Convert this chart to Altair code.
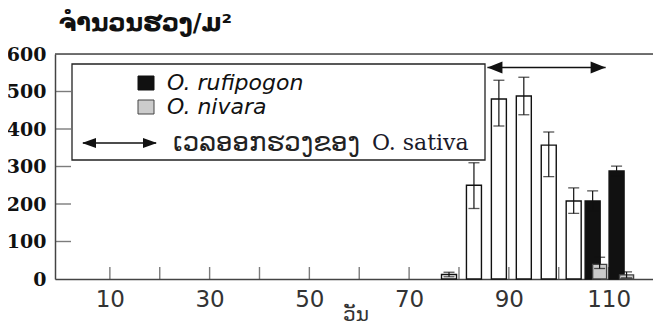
import altair as alt
import pandas as pd

# ---- data ----
sativa_day = [78, 83, 88, 93, 98, 103]
sativa_val = [12, 250, 480, 488, 357, 208]
sativa_err_hi = [6, 60, 50, 50, 35, 35]
sativa_err_lo = [6, 62, 72, 50, 84, 33]

rufi_day = [106.8, 111.6]
rufi_val = [208, 288]
rufi_err_hi = [27, 13]
rufi_err_lo = [27, 13]

niv_day = [108.2, 113.6]
niv_val = [39, 11]
niv_err_hi = [19, 8]
niv_err_lo = [11, 8]

heading_days = [85.7, 109.4]
heading_level = [564]

x_label_days = [10, 30, 50, 70, 90, 110]
x_tick_days = [10, 20, 30, 40, 50, 60, 70, 80, 90, 100, 110]
y_label_vals = [0, 100, 200, 300, 400, 500, 600]
y_tick_vals = [100, 200, 300, 400, 500]

title_text = "ຈຳນວນຮວງ/ມ²"
x_title_text = "ວັນ"
legend_labels = ["O. rufipogon", "O. nivara", "ເວລອອກຮວງຂອງ", "O. sativa"]

W, H = 598, 225
XDOM = [0, 117.9]
YDOM = [0, 600]

x_scale = alt.Scale(domain=XDOM, nice=False, zero=False)
y_scale = alt.Scale(domain=YDOM, nice=False)

x_axis = alt.Axis(values=x_label_days, ticks=False, grid=False, title=None,
                  domainColor="#444", domainWidth=1.5, labelFlush=False)
y_axis = alt.Axis(values=y_label_vals, ticks=False, grid=False, title=title_text,
                  titleAngle=0, titleAlign="left", titleBaseline="alphabetic",
                  titleX=3, titleY=-24, titleFont="DejaVu Sans", titleFontSize=24,
                  titleFontWeight="bold", titleColor="#111",
                  domainColor="#444", domainWidth=1.5, labelFlush=False)


def X(field):
    return alt.X(field, type="quantitative", scale=x_scale, axis=x_axis)


def Y(field):
    return alt.Y(field, type="quantitative", scale=y_scale, axis=y_axis)


def frame(days, vals, lo, hi):
    df = pd.DataFrame({"day": days, "val": vals, "elo": lo, "ehi": hi})
    df["lo"] = df["val"] - df["elo"]
    df["hi"] = df["val"] + df["ehi"]
    return df


sat = frame(sativa_day, sativa_val, sativa_err_lo, sativa_err_hi)
ruf = frame(rufi_day, rufi_val, rufi_err_lo, rufi_err_hi)
niv = frame(niv_day, niv_val, niv_err_lo, niv_err_hi)


def bars(df, fill, width, stroke="#111"):
    return alt.Chart(df).mark_bar(orient="vertical", size=width, fill=fill, stroke=stroke,
                                  strokeWidth=1.4).encode(x=X("day"), y=Y("val"))


def errs(df, color="#111"):
    r = alt.Chart(df).mark_rule(color=color, strokeWidth=1.2).encode(
        x=X("day"), y=Y("lo"), y2="hi")
    c1 = alt.Chart(df).mark_tick(orient="horizontal", size=11, thickness=1.3, color=color).encode(
        x=X("day"), y=Y("hi"))
    c2 = alt.Chart(df).mark_tick(orient="horizontal", size=11, thickness=1.3, color=color).encode(
        x=X("day"), y=Y("lo"))
    return [r, c1, c2]


one = pd.DataFrame({"a": [0]})

top_line = alt.Chart(one).mark_rule(color="#444", strokeWidth=1.5).encode(
    x=alt.value(0), x2=alt.value(W), y=alt.value(0))

xt = alt.Chart(pd.DataFrame({"d": x_tick_days})).mark_tick(
    orient="vertical", size=12, thickness=1.4, color="#444").encode(
    x=X("d"), y=alt.value(H - 6))
yt = alt.Chart(pd.DataFrame({"v": y_tick_vals})).mark_tick(
    orient="horizontal", size=16, thickness=1.4, color="#444").encode(
    y=Y("v"), x=alt.value(8))

# heading arrow (top)
hd = pd.DataFrame({"d1": [heading_days[0]], "d2": [heading_days[1]], "lv": heading_level})
arrow_line = alt.Chart(hd).mark_rule(color="#111", strokeWidth=1.4).encode(
    x=X("d1"), x2="d2", y=Y("lv"))
left_head = alt.Chart(hd).mark_point(shape="M 0 0 L 2 -0.8 L 2 0.8 Z", size=225, filled=True,
                                     color="#111", opacity=1).encode(x=X("d1"), y=Y("lv"))
right_head = alt.Chart(hd).mark_point(shape="M 0 0 L -2 -0.8 L -2 0.8 Z", size=225, filled=True,
                                      color="#111", opacity=1).encode(x=X("d2"), y=Y("lv"))

# legend drawn by hand
leg_box = alt.Chart(one).mark_rect(fill="white", stroke="#222", strokeWidth=1.3).encode(
    x=alt.value(17), x2=alt.value(430), y=alt.value(10), y2=alt.value(106))
sq1 = alt.Chart(one).mark_rect(fill="#111", stroke="#111").encode(
    x=alt.value(83), x2=alt.value(99), y=alt.value(22), y2=alt.value(36))
sq2 = alt.Chart(one).mark_rect(fill="#cccccc", stroke="#444").encode(
    x=alt.value(83), x2=alt.value(99), y=alt.value(46), y2=alt.value(60))
t1 = alt.Chart(one).mark_text(text=legend_labels[0], font="DejaVu Sans", fontStyle="italic",
                              fontSize=22, align="left", baseline="middle", color="#111").encode(
    x=alt.value(112), y=alt.value(29))
t2 = alt.Chart(one).mark_text(text=legend_labels[1], font="DejaVu Sans", fontStyle="italic",
                              fontSize=22, align="left", baseline="middle", color="#111").encode(
    x=alt.value(112), y=alt.value(53))
leg_arrow = alt.Chart(one).mark_rule(color="#111", strokeWidth=1.4).encode(
    x=alt.value(28), x2=alt.value(101), y=alt.value(89))
leg_lh = alt.Chart(one).mark_point(shape="M 0 0 L 2 -0.7 L 2 0.7 Z", size=196, filled=True,
                                   color="#111", opacity=1).encode(x=alt.value(27), y=alt.value(89))
leg_rh = alt.Chart(one).mark_point(shape="M 0 0 L -2 -0.7 L -2 0.7 Z", size=196, filled=True,
                                   color="#111", opacity=1).encode(x=alt.value(102), y=alt.value(89))
t3 = alt.Chart(one).mark_text(text=legend_labels[2], font="DejaVu Sans",
                              fontSize=26, align="left", baseline="middle", color="#222").encode(
    x=alt.value(118), y=alt.value(89))
t4 = alt.Chart(one).mark_text(text=legend_labels[3], font="DejaVu Serif",
                              fontSize=22, align="left", baseline="middle", color="#1a1a2a").encode(
    x=alt.value(317), y=alt.value(89))

xtitle = alt.Chart(one).mark_text(text=x_title_text, font="DejaVu Sans", fontSize=20,
                                  align="center", baseline="alphabetic", color="#333").encode(
    x=alt.value(301), y=alt.value(H + 42))

layers = [leg_box, top_line, xt, yt,
          bars(sat, "white", 15), *errs(sat),
          bars(ruf, "#111", 15), *errs(ruf),
          bars(niv, "#cccccc", 14, "#444"), *errs(niv),
          arrow_line, left_head, right_head,
          sq1, sq2, t1, t2, leg_arrow, leg_lh, leg_rh, t3, t4, xtitle]

chart = alt.layer(*layers).properties(
    width=W, height=H,
    autosize=alt.AutoSizeParams(type="none"),
    padding={"left": 47, "top": 46, "right": 0, "bottom": 48},
).configure_view(stroke=None).configure(background="white").configure_axisX(
    labelFont="DejaVu Sans", labelFontSize=23, labelColor="#333", labelPadding=9
).configure_axisY(
    labelFont="DejaVu Serif", labelFontSize=19, labelFontWeight="bold",
    labelColor="#111", labelPadding=9
)

chart.save("out.html", embed_options={"renderer": "svg", "actions": False})
